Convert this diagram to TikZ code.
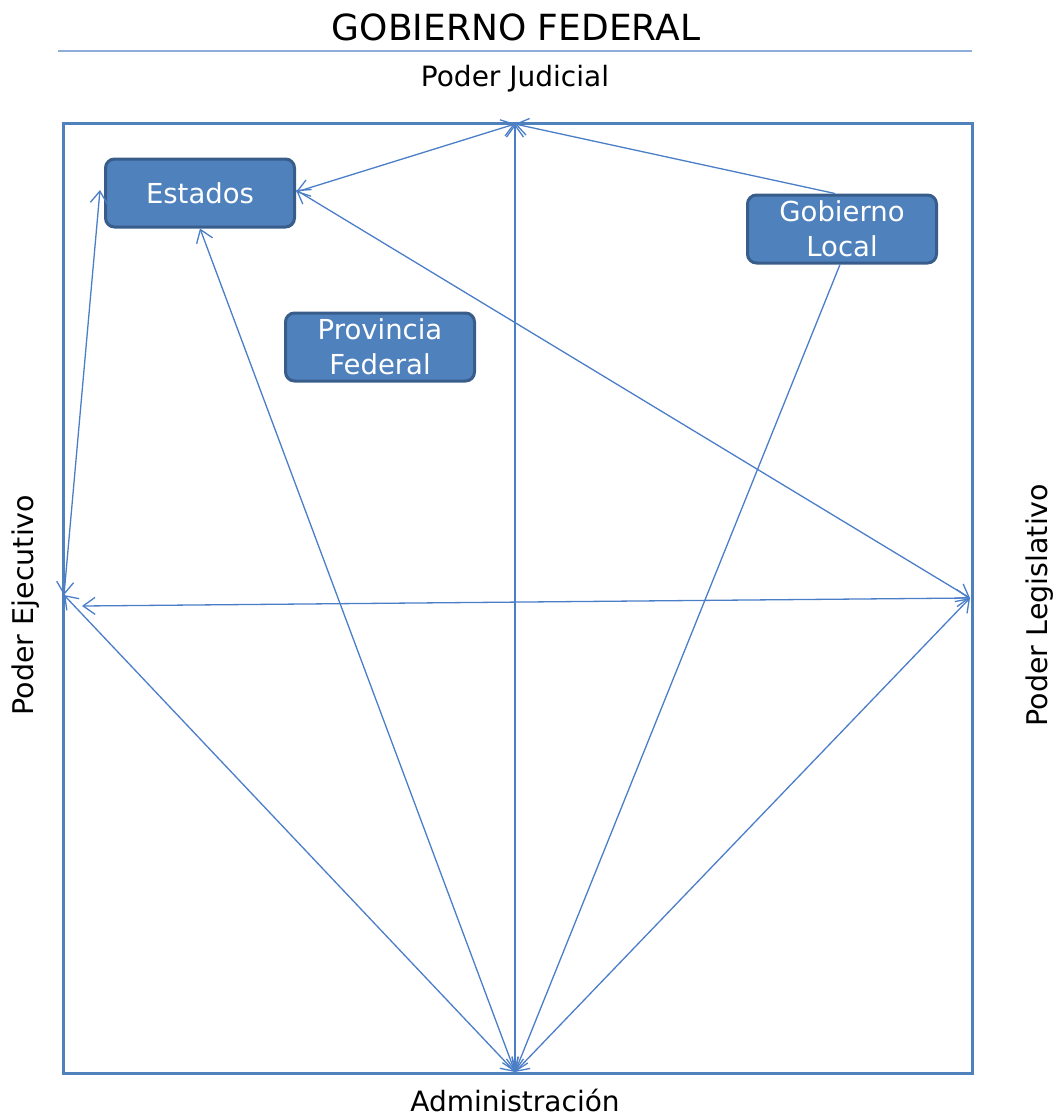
\documentclass[tikz,border=0pt]{standalone}
\usepackage{fontspec}
\setmainfont{DejaVu Sans}
\usetikzlibrary{arrows.meta}
\definecolor{frameblue}{HTML}{4F81BD}
\definecolor{boxedge}{HTML}{385D8A}
\definecolor{linkblue}{HTML}{4A7EC7}
\definecolor{ruleblue}{HTML}{8EADD9}
\begin{document}
\begin{tikzpicture}[x=1pt,y=-1pt,
  entity/.style={draw=boxedge, line width=3pt, fill=frameblue, rounded corners=9pt,
    text=white, minimum width=189pt, minimum height=68pt, align=center,
    inner sep=0pt, font=\fontsize{27.5}{35}\selectfont},
  label/.style={font=\fontsize{28}{32}\selectfont, inner sep=0pt},
  openv/.tip={Straight Barb[length=12pt,width=17pt]},
  link/.style={draw=linkblue, line width=1.3pt, openv-openv},
  onelink/.style={draw=linkblue, line width=1.3pt, -openv}]
  \useasboundingbox (0,0) rectangle (1059,1117);

  % heading and rule
  \node[font=\fontsize{36}{40}\selectfont, inner sep=0pt] (title) at (516,27) {GOBIERNO FEDERAL};
  \draw[ruleblue, line width=2pt] (58,51) -- (972,51);

  % outer frame
  \draw[frameblue, line width=3pt] (63,123) rectangle (972,1073);

  % side labels
  \node[label] (judicial) at (515,79) {Poder Judicial};
  \node[label] (admin) at (515,1100) {Administración};
  \node[label, rotate=90, font=\fontsize{28.5}{32}\selectfont] (ejecutivo) at (26,605) {Poder Ejecutivo};
  \node[label, rotate=90, font=\fontsize{28.5}{32}\selectfont] (legislativo) at (1040,605) {Poder Legislativo};

  % anchor points on the frame
  \coordinate (top) at (515,124);
  \coordinate (bottom) at (515,1072);
  \coordinate (left) at (64,595);
  \coordinate (right) at (970,598);
  \coordinate (hleft) at (82,606);

  % entities
  \node[entity] (estados) at (200,193) {Estados};
  \node[entity] (gobloc) at (842,229) {Gobierno\\Local};
  \node[entity] (provfed) at (380,347) {Provincia\\Federal};

  % connectors
  \draw[link] (top) -- ([yshift=1pt]estados.east);
  \draw[onelink] ([xshift=-7pt]gobloc.north) -- (top);
  \draw[link] (top) -- (bottom);
  \draw[link] (estados.south) -- (bottom);
  \draw[link] ([yshift=3pt]estados.east) -- (right);
  \draw[link] (left) -- ([xshift=-4pt,yshift=3pt]estados.west);
  \draw[link] (hleft) -- (right);
  \draw[link] (left) -- (bottom);
  \draw[onelink] ([xshift=-2pt]gobloc.south) -- (bottom);
  \draw[link] (right) -- (bottom);
\end{tikzpicture}
\end{document}
